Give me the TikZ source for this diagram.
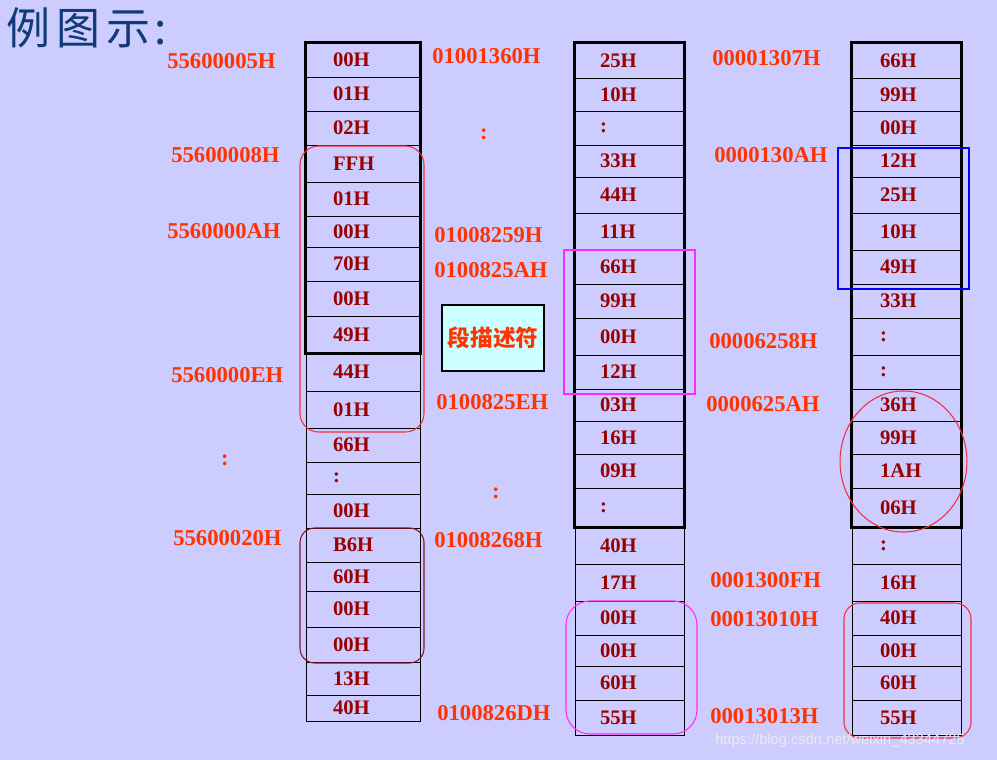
\documentclass[tikz,border=0pt]{standalone}
\usepackage{fontspec}
\setmainfont{Liberation Serif}
\newfontfamily\cjkfont{Noto Sans CJK SC}
\newfontfamily\wmfont{Liberation Sans}

\definecolor{bgblue}{RGB}{204,204,255}
\definecolor{valred}{RGB}{153,0,0}
\definecolor{addrred}{RGB}{255,51,0}
\definecolor{titleblue}{RGB}{16,58,120}
\definecolor{descfill}{RGB}{204,255,255}
\definecolor{hlred}{RGB}{240,50,60}
\definecolor{hlmaroon}{RGB}{130,20,40}
\definecolor{hlmagenta}{RGB}{255,40,255}
\definecolor{hlblue}{RGB}{0,0,255}

\begin{document}
\begin{tikzpicture}[
  x=0.75pt, y=-0.75pt,
  cell/.style={draw, line width=0.6pt, inner ysep=0pt, align=left,
    text=valred, font=\fontsize{15.5}{18}\selectfont\bfseries},
  addr/.style={anchor=west, inner sep=0pt, text=addrred,
    font=\fontsize{17}{20}\selectfont\bfseries},
  vdots/.style={inner sep=0pt, text=addrred, font=\fontsize{17}{20}\selectfont\bfseries},
  frame/.style={line width=2.2pt},
  hilite/.style={line width=0.8pt}
]
\fill[bgblue] (0,0) rectangle (997,760);

\node[anchor=west, inner sep=0pt, text=titleblue,
  font=\cjkfont\fontsize{33}{36}\selectfont] (title) at (6,28)
  {例\hspace{4.5pt}图\hspace{4.5pt}示\hspace{3pt}:};

% memory columns
\foreach \ya/\yb/\val [count=\i] in {43/77/00H, 77/111/01H, 111/145/02H, 145/182/FFH,
    182/216/01H, 216/247/00H, 247/281/70H, 281/316/00H, 316/353/49H, 353/391/44H,
    391/428/01H, 428/462/66H, 462/494/:, 494/528/00H, 528/562/B6H, 562/591/60H,
    591/627/00H, 627/662/00H, 662/695/13H, 695/721/40H}
  \node[cell, inner xsep=20.25pt, text width=45pt, minimum height={(\yb-\ya)*0.75pt}]
    (L\i) at (363,{(\ya+\yb)/2}) {\val};

\foreach \ya/\yb/\val [count=\i] in {43/78/25H, 78/111/10H, 111/145/:, 145/177/33H,
    177/213/44H, 213/250/11H, 250/284/66H, 284/318/99H, 318/355/00H, 355/389/12H,
    389/421/03H, 421/454/16H, 454/488/09H, 488/527/:, 527/564/40H, 564/601/17H,
    601/635/00H, 635/666/00H, 666/700/60H, 700/735/55H}
  \node[cell, inner xsep=18.75pt, text width=44.25pt, minimum height={(\yb-\ya)*0.75pt}]
    (M\i) at (629.5,{(\ya+\yb)/2}) {\val};

\foreach \ya/\yb/\val [count=\i] in {43/78/66H, 78/111/99H, 111/145/00H, 145/177/12H,
    177/213/25H, 213/250/10H, 250/284/49H, 284/318/33H, 318/355/:, 355/389/:,
    389/421/36H, 421/454/99H, 454/488/1AH, 488/527/06H, 527/564/:, 564/601/16H,
    601/635/40H, 635/666/00H, 666/700/60H, 700/735/55H}
  \node[cell, inner xsep=21pt, text width=39.75pt, minimum height={(\yb-\ya)*0.75pt}]
    (R\i) at (906.5,{(\ya+\yb)/2}) {\val};

\draw[frame] (L1.north west) rectangle (L9.south east);
\draw[frame] (M1.north west) rectangle (M14.south east);
\draw[frame] (R1.north west) rectangle (R14.south east);

% addresses
\node[addr] (a1) at (167,61)  {55600005H};
\node[addr] (a2) at (171,155) {55600008H};
\node[addr] (a3) at (167,231) {5560000AH};
\node[addr] (a4) at (171,375) {5560000EH};
\node[vdots] (adots) at (225,460) {:};
\node[addr] (a5) at (173,538) {55600020H};

\node[addr] (b1) at (432,56)  {01001360H};
\node[vdots] (bdots1) at (484,134) {:};
\node[addr] (b2) at (434,235) {01008259H};
\node[addr] (b3) at (434,270) {0100825AH};
\node[addr] (b4) at (436,402) {0100825EH};
\node[vdots] (bdots2) at (496,493) {:};
\node[addr] (b5) at (434,540) {01008268H};
\node[addr] (b6) at (437,713) {0100826DH};

\node[addr] (c1) at (712,58)  {00001307H};
\node[addr] (c2) at (714,155) {0000130AH};
\node[addr] (c3) at (709,341) {00006258H};
\node[addr] (c4) at (706,404) {0000625AH};
\node[addr] (c5) at (710,580) {0001300FH};
\node[addr] (c6) at (710,619) {00013010H};
\node[addr] (c7) at (710,716) {00013013H};

\node[draw, line width=1.5pt, fill=descfill, minimum width=76.5pt, minimum height=49.5pt,
  text=addrred, font=\cjkfont\bfseries\fontsize{17}{20}\selectfont] (desc) at (493,338) {段描述符};

% highlights
\draw[hilite, hlred, rounded corners=14pt] (300,146) rectangle (424,432);
\draw[hilite, hlmaroon, rounded corners=11pt] (300,528) rectangle (424,663);
\draw[hilite, hlmagenta] (564,250) rectangle (695,394);
\draw[hilite, hlmagenta, rounded corners=18pt] (566,601) rectangle (697,734);
\draw[hilite, hlblue] (838,148) rectangle (969,289);
\draw[hilite, hlred] (903.5,461.5) ellipse [x radius=47.6pt, y radius=52.9pt];
\draw[hilite, hlred, rounded corners=12pt] (844,603) rectangle (971,738);

\node[anchor=west, inner sep=0pt, text=white!92!black,
  font=\wmfont\fontsize{11}{13}\selectfont] (wm) at (715,741) {https://blog.csdn.net/weixin\_43344725};
\end{tikzpicture}
\end{document}
